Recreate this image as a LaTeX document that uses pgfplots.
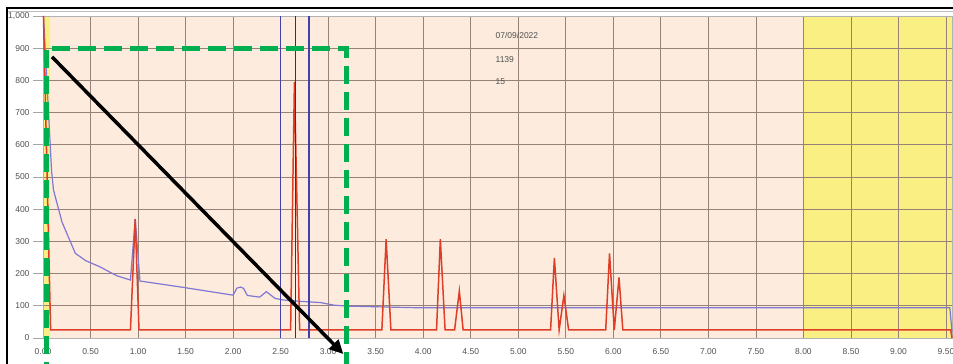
\documentclass[border=0pt]{standalone}
\usepackage{pgfplots}
\pgfplotsset{compat=1.18}
\usepackage{fontspec}
\setmainfont{Liberation Sans}
\usetikzlibrary{arrows.meta}
\definecolor{peach}{RGB}{253,236,222}
\definecolor{ylw}{RGB}{249,239,130}
\definecolor{gridc}{RGB}{150,130,120}
\definecolor{redl}{RGB}{222,62,40}
\definecolor{bluel}{RGB}{128,120,210}
\definecolor{vblue}{RGB}{65,65,170}
\definecolor{vdark}{RGB}{55,55,55}
\definecolor{grn}{RGB}{0,176,80}
\definecolor{lbl}{RGB}{80,80,80}
\pgfplotstableread{
x y
0.005 1000
0.08 25
0.92 25
0.97 369
1.01 25
2.605 25
2.645 795
2.70 25
3.565 25
3.61 307
3.66 25
4.14 25
4.18 307
4.23 25
4.33 25
4.38 146
4.42 25
5.34 25
5.38 249
5.43 25
5.48 132
5.53 25
5.92 25
5.96 263
6.01 25
6.06 188
6.10 25
9.55 25
9.563 0
}\redtab
\pgfplotstableread{
x y
0.005 1000
0.09 520
0.11 460
0.2 360
0.34 263
0.45 240
0.6 221
0.7 205
0.78 193
0.92 180
0.97 370
1.02 177
1.48 157
2.0 133
2.04 155
2.08 158
2.11 154
2.15 132
2.28 127
2.35 144
2.44 123
2.53 118
2.7 114
2.92 110
3.06 102
3.2 99
3.5 97
3.93 94
9.54 94
9.563 20
}\bluetab
\begin{document}
\begin{tikzpicture}[x=1pt,y=1pt]
\pgfplotsset{set layers}
\begin{axis}[at={(43pt,26pt)}, anchor=south west, scale only axis,
  width=909pt, height=322pt,
  xmin=0, xmax=9.563, ymin=0, ymax=1000,
  axis background/.style={fill=peach},
  clip=false,
  grid=major,
  major grid style={gridc, line width=0.8pt},
  axis line style={gray!60, line width=0.8pt},
  xtick={0,0.5,1,1.5,2,2.5,3,3.5,4,4.5,5,5.5,6,6.5,7,7.5,8,8.5,9,9.5},
  xticklabels={0.00,0.50,1.00,1.50,2.00,2.50,3.00,3.50,4.00,4.50,5.00,5.50,6.00,6.50,7.00,7.50,8.00,8.50,9.00,9.50},
  ytick={0,100,200,300,400,500,600,700,800,900,1000},
  yticklabels={0,100,200,300,400,500,600,700,800,900,{1,000}},
  tick label style={font=\fontsize{8.5}{10}\selectfont, text=lbl},
  xticklabel style={yshift=3pt},
  x tick style={draw=none},
  y tick style={gray!70, line width=0.8pt},
  tick align=outside,
  major tick length=10pt,
]
\addplot[on layer=axis background, fill=ylw, draw=none] coordinates {(0,0) (0,1000) (0.075,1000) (0.075,0)} \closedcycle;
\addplot[on layer=axis background, fill=ylw, draw=none] coordinates {(8,0) (8,1000) (9.563,1000) (9.563,0)} \closedcycle;
\addplot[bluel, line width=1.2pt] table[x=x,y=y] {\bluetab};
\addplot[redl, line width=1.5pt] table[x=x,y=y] {\redtab};
\addplot[vblue, line width=1.7pt] coordinates {(2.50,0) (2.50,1000)};
\addplot[vdark, line width=1.3pt] coordinates {(2.655,0) (2.655,1000)};
\addplot[vblue, line width=1.7pt] coordinates {(2.795,0) (2.795,1000)};
\node[anchor=west, font=\fontsize{8.5}{10}\selectfont, text=lbl, inner sep=0pt] at (axis cs:4.76,938) {07/09/2022};
\node[anchor=west, font=\fontsize{8.5}{10}\selectfont, text=lbl, inner sep=0pt] at (axis cs:4.76,866) {1139};
\node[anchor=west, font=\fontsize{8.5}{10}\selectfont, text=lbl, inner sep=0pt] at (axis cs:4.76,795) {15};
\draw[grn, line width=5pt, dash pattern=on 18pt off 8pt] (axis cs:0.032,-130) -- (axis cs:0.032,900) -- (axis cs:3.198,900) -- (axis cs:3.198,-130);
\draw[black, line width=3.5pt, -{Triangle[length=14pt,width=13pt]}] (axis cs:0.095,873) -- (axis cs:3.16,-50);
\end{axis}
\draw[gray!50, line width=0.8pt] (7,352.5) -- (960,352.5);
\draw[black, line width=2pt] (7,-10) -- (7,356) -- (960,356);
\pgfresetboundingbox
\path[use as bounding box] (0,0) rectangle (953,364);
\end{tikzpicture}
\end{document}
